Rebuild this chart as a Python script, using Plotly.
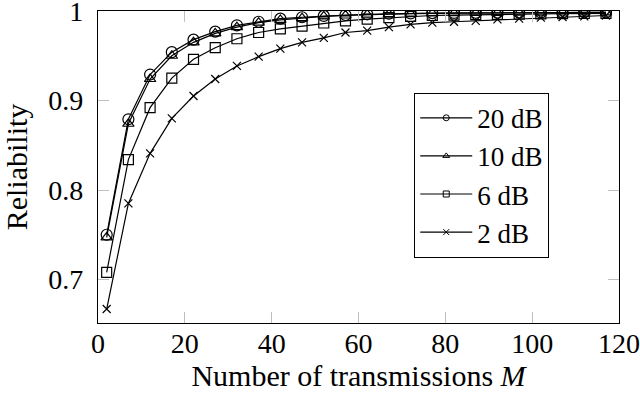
import plotly.graph_objects as go

# transmissions where markers are drawn
m_vals = [2, 7, 12, 17, 22, 27, 32, 37, 42, 47, 52, 57, 62, 67, 72, 77, 82, 87, 92, 97, 102, 107, 112, 117]

rel_20db = [0.750, 0.879, 0.929, 0.954, 0.968, 0.977, 0.984, 0.988, 0.9915, 0.993, 0.9945, 0.9955,
            0.9963, 0.997, 0.9973, 0.9976, 0.9978, 0.998, 0.9981, 0.9982, 0.9983, 0.9984, 0.9985, 0.9985]
rel_10db = [0.747, 0.874, 0.924, 0.950, 0.965, 0.975, 0.982, 0.987, 0.990, 0.992, 0.994, 0.995,
            0.996, 0.9966, 0.997, 0.9973, 0.9976, 0.9978, 0.998, 0.9981, 0.9982, 0.9983, 0.9984, 0.9985]
rel_6db = [0.708, 0.834, 0.892, 0.925, 0.946, 0.959, 0.969, 0.976, 0.980, 0.983, 0.9866, 0.989,
           0.991, 0.9925, 0.994, 0.995, 0.9955, 0.996, 0.9963, 0.9966, 0.9968, 0.997, 0.9972, 0.9973]
rel_2db = [0.667, 0.785, 0.841, 0.880, 0.905, 0.924, 0.9386, 0.949, 0.958, 0.965, 0.970, 0.976,
           0.978, 0.982, 0.985, 0.987, 0.988, 0.989, 0.9907, 0.9915, 0.9926, 0.9933, 0.994, 0.995]

series = [
    ("20 dB", rel_20db, "circle-open", 11),
    ("10 dB", rel_10db, "triangle-up-open", 10),
    ("6 dB", rel_6db, "square-open", 10),
    ("2 dB", rel_2db, "x-thin-open", 8),
]

x_ticks = [0, 20, 40, 60, 80, 100, 120]
y_ticks = [0.7, 0.8, 0.9, 1.0]
y_labels = ["0.7", "0.8", "0.9", "1"]

FONT = "Liberation Serif"
TICK_FS = 28
LABEL_FS = 30

fig = go.Figure()
for name, vals, sym, size in series:
    fig.add_trace(go.Scatter(
        x=m_vals, y=vals, name=name, mode="lines+markers", showlegend=False,
        line=dict(color="black", width=1.2),
        marker=dict(symbol=sym, size=size, color="black", line=dict(color="black", width=1.2)),
    ))
# legend entries use smaller markers, like the original
for name, vals, sym, size in series:
    fig.add_trace(go.Scatter(
        x=[None], y=[None], name=name, mode="lines+markers",
        line=dict(color="black", width=1.2),
        marker=dict(symbol=sym, size=6, color="black", line=dict(color="black", width=1)),
    ))

axis_common = dict(
    showline=True, linecolor="black", linewidth=1.2, mirror="ticks",
    ticks="inside", ticklen=11, tickcolor="#c0c0c0", tickwidth=1,
    showgrid=False, zeroline=False, automargin=False, ticklabeloverflow="allow",
    tickfont=dict(family=FONT, size=TICK_FS, color="black"),
)

fig.update_xaxes(
    range=[0, 120], tickvals=x_ticks, ticklabelstandoff=-5,
    title=dict(text="Number of transmissions <i>M</i>", font=dict(family=FONT, size=LABEL_FS, color="black"), standoff=1),
    **axis_common,
)
fig.update_yaxes(
    range=[0.6514, 1.0], tickvals=y_ticks, ticktext=y_labels, ticklabelstandoff=8,
    title=dict(text="Reliability", font=dict(family=FONT, size=LABEL_FS, color="black"), standoff=13),
    **axis_common,
)

fig.update_layout(
    width=640, height=396,
    margin=dict(l=98, r=21, t=11, b=73),
    plot_bgcolor="white", paper_bgcolor="white",
    showlegend=True,
    legend=dict(
        x=0.607, y=0.738, xanchor="left", yanchor="top",
        bordercolor="black", borderwidth=1, bgcolor="white",
        font=dict(family=FONT, size=27, color="black"),
        tracegroupgap=0, itemwidth=52, entrywidth=96,
    ),
)

fig.write_html("out.html", config={"displayModeBar": False},
               post_script="document.body.style.margin='0';")
